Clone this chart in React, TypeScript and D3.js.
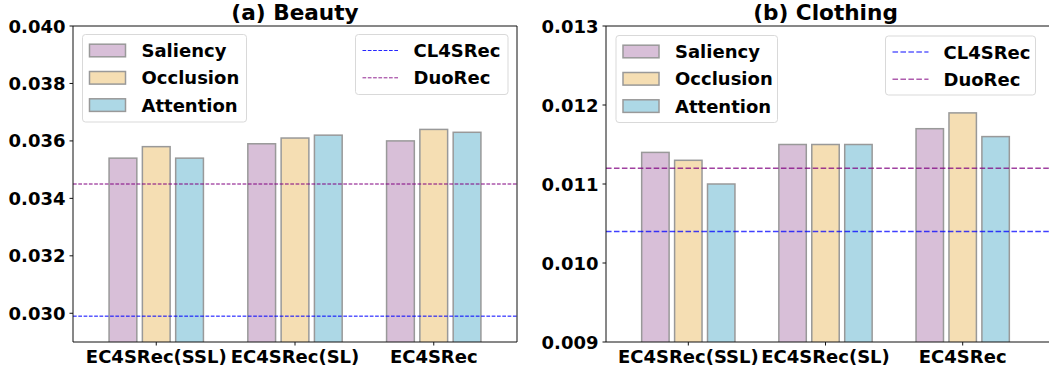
import React from "react";
import * as d3 from "d3";

// Categories and series
const categories = ["EC4SRec(SSL)", "EC4SRec(SL)", "EC4SRec"];
const methods = ["Saliency", "Occlusion", "Attention"];
const methodColors = ["#d8bfd8", "#f5deb3", "#add8e6"];

const beautySaliency = [0.0354, 0.0359, 0.036];
const beautyOcclusion = [0.0358, 0.0361, 0.0364];
const beautyAttention = [0.0354, 0.0362, 0.0363];
const beautyCL4SRec = 0.0299;
const beautyDuoRec = 0.0345;
const beautyTicks = [0.03, 0.032, 0.034, 0.036, 0.038, 0.04];
const beautyDomain = [0.029, 0.04];

const clothingSaliency = [0.0114, 0.0115, 0.0117];
const clothingOcclusion = [0.0113, 0.0115, 0.0119];
const clothingAttention = [0.011, 0.0115, 0.0116];
const clothingCL4SRec = 0.0104;
const clothingDuoRec = 0.0112;
const clothingTicks = [0.009, 0.01, 0.011, 0.012, 0.013];
const clothingDomain = [0.009, 0.013];

const baselineNames = ["CL4SRec", "DuoRec"];
const baselineColors = ["#0000ff", "#800080"];

const FONT = "'DejaVu Sans', sans-serif";
const FS = 18;

type PanelProps = {
  title: string;
  series: number[][];
  baselines: number[];
  ticks: number[];
  domain: number[];
  x0: number;
  x1: number;
  frameRight: number;
  drawRightSpine: boolean;
  lineWidth: number;
  lineOpacity: number;
  barLegend: { x: number; y: number; w: number; h: number };
  lineLegend: { x: number; y: number; w: number; h: number };
};

function Panel(p: PanelProps) {
  const top = 26;
  const bottom = 342;
  const x = d3.scaleLinear().domain([-0.6, 2.6]).range([p.x0, p.x1]);
  const y = d3.scaleLinear().domain(p.domain).range([bottom, top]);
  const barW = 0.2;
  const offsets = [-0.24, 0, 0.24];
  const unit = x(1) - x(0);
  const dash = `${3.7 * p.lineWidth},${1.6 * p.lineWidth}`;
  const clipId = "clip-" + p.title.replace(/[^a-z]/gi, "");
  const rowGap = 27.3;

  return (
    <g>
      <defs>
        <clipPath id={clipId}>
          <rect x={p.x0} y={top} width={p.frameRight - p.x0} height={bottom - top} />
        </clipPath>
      </defs>
      <g clipPath={`url(#${clipId})`}>
        {p.series.map((vals, j) =>
          vals.map((v, i) => {
            const cx = x(i + offsets[j]);
            return (
              <rect
                key={`${j}-${i}`}
                x={cx - (barW * unit) / 2}
                y={y(v)}
                width={barW * unit}
                height={bottom - y(v) + 2}
                fill={methodColors[j]}
                stroke="#999999"
                strokeWidth={1.5}
              />
            );
          })
        )}
        {p.baselines.map((b, k) => (
          <line
            key={k}
            x1={p.x0}
            x2={p.frameRight}
            y1={y(b)}
            y2={y(b)}
            stroke={baselineColors[k]}
            strokeOpacity={p.lineOpacity}
            strokeWidth={p.lineWidth}
            strokeDasharray={dash}
          />
        ))}
      </g>

      {/* frame */}
      <line x1={p.x0} x2={p.x0} y1={top} y2={bottom} stroke="#111" strokeWidth={1} />
      <line x1={p.x0} x2={p.frameRight} y1={bottom} y2={bottom} stroke="#111" strokeWidth={1} />
      <line x1={p.x0} x2={p.frameRight} y1={top} y2={top} stroke="#111" strokeWidth={1} />
      {p.drawRightSpine && (
        <line x1={p.frameRight} x2={p.frameRight} y1={top} y2={bottom} stroke="#111" strokeWidth={1} />
      )}

      {/* y axis */}
      {p.ticks.map((t) => (
        <g key={t}>
          <line x1={p.x0 - 3.5} x2={p.x0} y1={y(t)} y2={y(t)} stroke="#111" strokeWidth={1} />
          <text
            x={p.x0 - 7.5}
            y={y(t) + 6.5}
            textAnchor="end"
            fontFamily={FONT}
            fontWeight="bold"
            fontSize={FS}
            fill="#000"
          >
            {t.toFixed(3)}
          </text>
        </g>
      ))}

      {/* x axis */}
      {categories.map((c, i) => (
        <g key={c}>
          <line x1={x(i)} x2={x(i)} y1={bottom} y2={bottom + 3.5} stroke="#111" strokeWidth={1} />
          <text
            x={x(i)}
            y={bottom + 21}
            textAnchor="middle"
            fontFamily={FONT}
            fontWeight="bold"
            fontSize={FS}
            fill="#000"
          >
            {c}
          </text>
        </g>
      ))}

      {/* title */}
      <text
        x={(p.x0 + (p.drawRightSpine ? p.frameRight : p.x1 + (p.x0 - x(-0.6)))) / 2}
        y={19.5}
        textAnchor="middle"
        fontFamily={FONT}
        fontWeight="bold"
        fontSize={21.6}
        fill="#000"
      >
        {p.title}
      </text>

      {/* method legend */}
      <rect
        x={p.barLegend.x}
        y={p.barLegend.y}
        width={p.barLegend.w}
        height={p.barLegend.h}
        rx={3}
        fill="#fff"
        fillOpacity={0.8}
        stroke="#d9d9d9"
        strokeWidth={1}
      />
      {methods.map((m, j) => {
        const cy = p.barLegend.y + 16 + j * rowGap;
        return (
          <g key={m}>
            <rect
              x={p.barLegend.x + 7}
              y={cy - 6.3}
              width={36}
              height={12.6}
              fill={methodColors[j]}
              stroke="#999999"
              strokeWidth={1.5}
            />
            <text
              x={p.barLegend.x + 59}
              y={cy + 6.5}
              fontFamily={FONT}
              fontWeight="bold"
              fontSize={FS}
              fill="#000"
            >
              {m}
            </text>
          </g>
        );
      })}

      {/* baseline legend */}
      <rect
        x={p.lineLegend.x}
        y={p.lineLegend.y}
        width={p.lineLegend.w}
        height={p.lineLegend.h}
        rx={3}
        fill="#fff"
        fillOpacity={0.8}
        stroke="#d9d9d9"
        strokeWidth={1}
      />
      {baselineNames.map((n, k) => {
        const cy = p.lineLegend.y + 16 + k * rowGap;
        return (
          <g key={n}>
            <line
              x1={p.lineLegend.x + 7}
              x2={p.lineLegend.x + 43}
              y1={cy}
              y2={cy}
              stroke={baselineColors[k]}
              strokeOpacity={p.lineOpacity * 0.85}
              strokeWidth={p.lineWidth}
              strokeDasharray={dash}
            />
            <text
              x={p.lineLegend.x + 58}
              y={cy + 6.5}
              fontFamily={FONT}
              fontWeight="bold"
              fontSize={FS}
              fill="#000"
            >
              {n}
            </text>
          </g>
        );
      })}
    </g>
  );
}

export default function App() {
  return (
    <svg
      width={1049}
      height={376}
      style={{ position: "absolute", left: 0, top: 0, background: "#fff" }}
    >
      <rect x={0} y={0} width={1049} height={376} fill="#fff" />
      <Panel
        title="(a) Beauty"
        series={[beautySaliency, beautyOcclusion, beautyAttention]}
        baselines={[beautyCL4SRec, beautyDuoRec]}
        ticks={beautyTicks}
        domain={beautyDomain}
        x0={73}
        x1={517}
        frameRight={517}
        drawRightSpine={true}
        lineWidth={1}
        lineOpacity={1}
        barLegend={{ x: 82.5, y: 34.5, w: 164, h: 87.5 }}
        lineLegend={{ x: 355.5, y: 34.5, w: 152.5, h: 60 }}
      />
      <Panel
        title="(b) Clothing"
        series={[clothingSaliency, clothingOcclusion, clothingAttention]}
        baselines={[clothingCL4SRec, clothingDuoRec]}
        ticks={clothingTicks}
        domain={clothingDomain}
        x0={606}
        x1={1045}
        frameRight={1060}
        drawRightSpine={false}
        lineWidth={1.5}
        lineOpacity={0.75}
        barLegend={{ x: 616, y: 35.5, w: 161.5, h: 87 }}
        lineLegend={{ x: 885.5, y: 36, w: 150, h: 59 }}
      />
    </svg>
  );
}
